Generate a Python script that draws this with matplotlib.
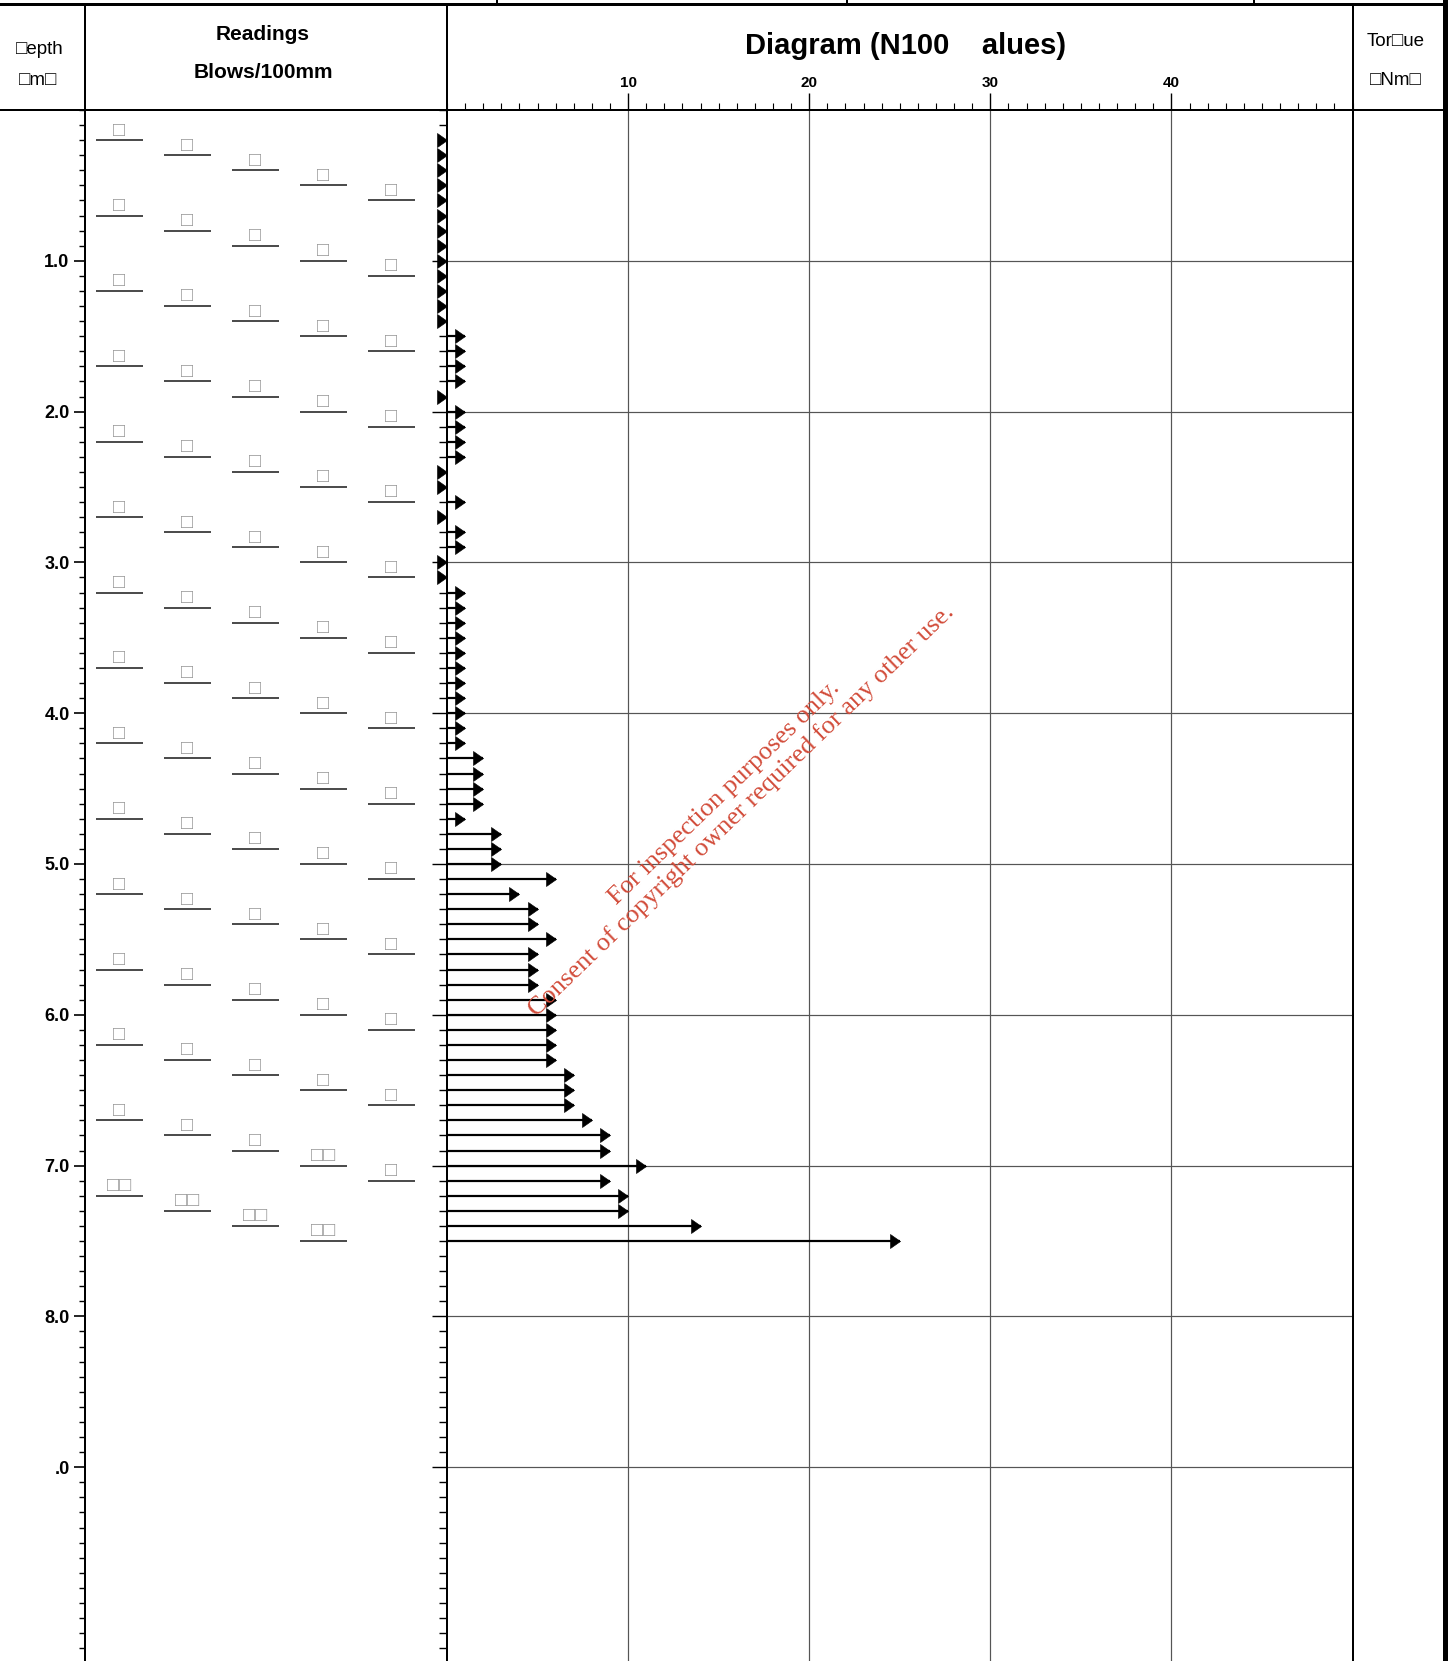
import matplotlib.pyplot as plt
from matplotlib.ticker import MultipleLocator
import numpy as np

plt.rcParams['font.family'] = ['Liberation Sans', 'DejaVu Sans']

# depth at the bottom of each 100 mm increment (m)
depths = [0.2, 0.3, 0.4, 0.5, 0.6, 0.7, 0.8, 0.9, 1.0, 1.1, 1.2, 1.3, 1.4,
          1.5, 1.6, 1.7, 1.8, 1.9, 2.0, 2.1, 2.2, 2.3, 2.4, 2.5, 2.6, 2.7,
          2.8, 2.9, 3.0, 3.1, 3.2, 3.3, 3.4, 3.5, 3.6, 3.7, 3.8, 3.9, 4.0,
          4.1, 4.2, 4.3, 4.4, 4.5, 4.6, 4.7, 4.8, 4.9, 5.0, 5.1, 5.2, 5.3,
          5.4, 5.5, 5.6, 5.7, 5.8, 5.9, 6.0, 6.1, 6.2, 6.3, 6.4, 6.5, 6.6,
          6.7, 6.8, 6.9, 7.0, 7.1, 7.2, 7.3, 7.4, 7.5]
# blows / 100mm (N100)
blows = [0, 0, 0, 0, 0, 0, 0, 0, 0, 0, 0, 0, 0,
         1, 1, 1, 1, 0, 1, 1, 1, 1, 0, 0, 1, 0, 1, 1, 0, 0,
         1, 1, 1, 1, 1, 1, 1, 1, 1, 1, 1,
         2, 2, 2, 2, 1, 3, 3, 3, 6, 4, 5, 5, 6, 5, 5, 5,
         6, 6, 6, 6, 6, 7, 7, 7, 8, 9, 9, 11, 9, 10, 10, 14, 25]

depth_ticks = [1, 2, 3, 4, 5, 6, 7, 8, 9]
depth_labels = ['1.0', '2.0', '3.0', '4.0', '5.0', '6.0', '7.0', '8.0', '.0']
n_ticks = [10, 20, 30, 40]

W, H = 1450, 1661
PX = 72 / 100  # points per pixel
BOX = '\u25a1'  # missing-glyph boxes

X_DEPTH, X_DIAG, X_TORQ, X_RIGHT = 84.7, 447, 1352.6, 1445.5
Y_TOP, Y_HEAD = 4, 110
d_max = (H - Y_HEAD) / 150.8


def rect(x0, y0, x1, y1):
    return [x0 / W, 1 - y1 / H, (x1 - x0) / W, (y1 - y0) / H]


fig = plt.figure(figsize=(W / 100, H / 100), dpi=100)

# frame + header
bg = fig.add_axes([0, 0, 1, 1])
bg.set_xlim(0, W)
bg.set_ylim(H, 0)
bg.axis('off')
bg.plot([0, X_RIGHT], [Y_TOP, Y_TOP], color='black', lw=3 * PX)
bg.plot([0, X_RIGHT], [Y_HEAD, Y_HEAD], color='black', lw=2 * PX)
for x in [X_DEPTH, X_DIAG, X_TORQ]:
    bg.plot([x, x], [Y_TOP, H], color='black', lw=2 * PX)
bg.plot([X_RIGHT, X_RIGHT], [0, H], color='black', lw=5 * PX)
for x in [496.7, 846.7, 1254]:
    bg.plot([x, x], [0, Y_TOP], color='black', lw=2 * PX)

bg.text(40, 50, BOX + 'epth', ha='center', va='center', fontsize=13.5)
bg.text(38, 80.5, BOX + 'm' + BOX, ha='center', va='center', fontsize=13.5)
bg.text(263, 34, 'Readings', ha='center', va='center', fontsize=15, fontweight='bold')
bg.text(263, 72, 'Blows/100mm', ha='center', va='center', fontsize=15, fontweight='bold')
bg.text(906, 46, 'Diagram (N100    alues)', ha='center', va='center', fontsize=21,
        fontweight='bold')
bg.text(1396, 42, 'Tor' + BOX + 'ue', ha='center', va='center', fontsize=13.5)
bg.text(1396, 80.5, BOX + 'Nm' + BOX, ha='center', va='center', fontsize=13.5)

# readings column
ax_r = fig.add_axes(rect(X_DEPTH, Y_HEAD, X_DIAG, H))
ax_r.set_xlim(-0.509, 4.819)
ax_r.set_ylim(d_max, 0)
ax_r.patch.set_alpha(0)
for s in ['top', 'right', 'bottom']:
    ax_r.spines[s].set_visible(False)
ax_r.spines['left'].set_linewidth(2 * PX)
ax_r.set_xticks([])
ax_r.set_yticks(depth_ticks, depth_labels, fontweight='bold', fontsize=13)
ax_r.yaxis.set_minor_locator(MultipleLocator(0.1))
ax_r.tick_params(axis='y', which='major', length=11 * PX, width=1.2, pad=3)
ax_r.tick_params(axis='y', which='minor', length=6 * PX, width=1)

cols = np.arange(len(depths)) % 5
half = 0.343
ax_r.hlines(depths, cols - half, cols + half, color='#222222', lw=1.6 * PX)
for c, d, n in zip(cols, depths, blows):
    ax_r.text(c, d - 0.004, BOX * len(str(n)), ha='center', va='bottom',
              color='#9a9a9a', fontsize=14.5)

# N100 diagram
ax = fig.add_axes(rect(X_DIAG, Y_HEAD, X_TORQ, H))
ax.set_xlim(0, 50)
ax.set_ylim(d_max, 0)
ax.patch.set_alpha(0)
ax.spines['bottom'].set_visible(False)
for s in ['top', 'left', 'right']:
    ax.spines[s].set_linewidth(2 * PX)
ax.xaxis.tick_top()
ax.set_xticks(n_ticks, [str(t) for t in n_ticks], fontweight='bold', fontsize=11)
ax.xaxis.set_minor_locator(MultipleLocator(1))
ax.tick_params(axis='x', which='major', length=17 * PX, width=1, pad=2.5)
ax.tick_params(axis='x', which='minor', length=7 * PX, width=0.8)
ax.set_yticks(depth_ticks)
ax.set_yticklabels([])
ax.yaxis.set_minor_locator(MultipleLocator(0.1))
ax.tick_params(axis='y', which='major', length=15 * PX, width=1)
ax.tick_params(axis='y', which='minor', length=8 * PX, width=1)
ax.grid(True, which='major', color='#555555', lw=1.2 * PX)
ax.set_axisbelow(True)

arrow = [(0, 0), (-1, 0.7), (-1, -0.7), (0, 0)]
ax.hlines(depths, 0, blows, color='black', lw=2.2 * PX)
ax.plot(blows, depths, ls='none', marker=arrow, ms=20 * PX, color='black',
        mew=0.6 * PX, clip_on=False)

# watermark
fig.text(733 / W, 1 - 802 / H,
         'For inspection purposes only.\nConsent of copyright owner required for any other use.',
         family='Liberation Serif', fontsize=19, color='#d24c3a', rotation=44,
         rotation_mode='anchor', ha='center', va='center', multialignment='center',
         linespacing=1.15)

fig.savefig('out.png', dpi=100)
